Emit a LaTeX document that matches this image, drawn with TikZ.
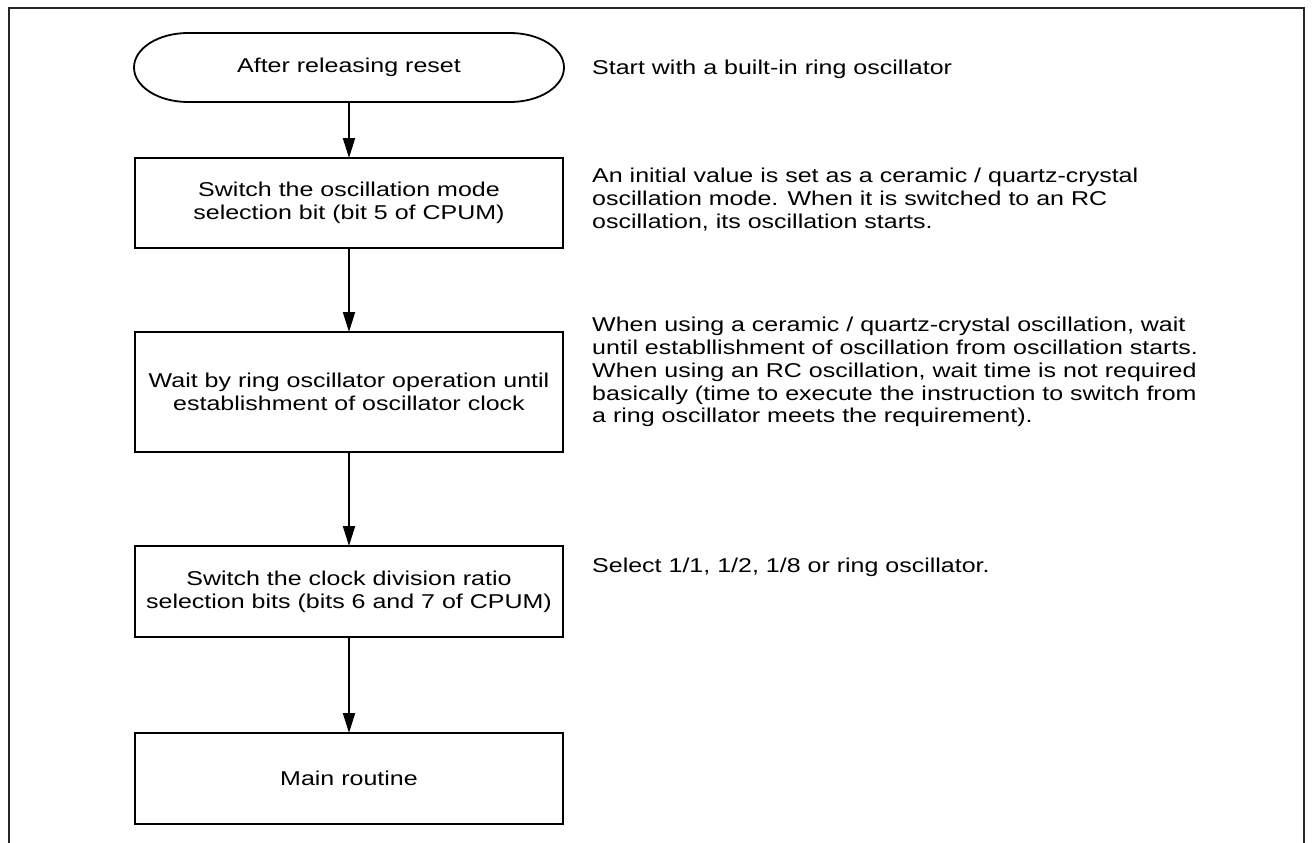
\documentclass[tikz,border=0pt]{standalone}
\usepackage{fontspec}
\setmainfont{Liberation Sans}[FakeStretch=1.25]
\usetikzlibrary{arrows.meta}

\begin{document}
\begin{tikzpicture}[
      x=1pt, y=-1pt,
      font=\fontsize{20}{22.8}\selectfont,
      type-frame/.style={line width=2.2pt, draw=black!85},
      type-start/.style={rectangle, minimum width=430pt, minimum height=69pt, inner sep=0pt, outer sep=0pt},
      type-step/.style={rectangle, draw, line width=1.8pt, minimum width=428pt, align=center, inner sep=0pt, outer sep=0pt},
      type-note/.style={anchor=north west, align=left, inner sep=0pt},
      flow/.style={line width=2pt, -{Triangle[length=20pt,width=12pt]}}
    ]
      \useasboundingbox (0,0) rectangle (1315,843);
      \draw[type-frame] (9,843) -- (9,8) -- (1304,8) -- (1304,843);

      \node[type-start] (reset) at (349,67.5) {After releasing reset};
      \draw[line width=1.8pt] ([xshift=54pt]reset.north west) -- ([xshift=-54pt]reset.north east)
        arc[start angle=90, end angle=-90, x radius=54pt, y radius=34.5pt]
        -- ([xshift=54pt]reset.south west)
        arc[start angle=270, end angle=90, x radius=54pt, y radius=34.5pt] -- cycle;

      \node[type-step, minimum height=90pt] (mode) at (349,203)
        {Switch the oscillation mode\\selection bit (bit 5 of CPUM)};
      \node[type-step, minimum height=120pt] (wait) at (349,392)
        {Wait by ring oscillator operation until\\establishment of oscillator clock};
      \node[type-step, minimum height=91pt] (ratio) at (349,591.5)
        {Switch the clock division ratio\\selection bits (bits 6 and 7 of CPUM)};
      \node[type-step, minimum height=91pt] (main) at (349,778.5) {Main routine};

      \draw[flow] (reset) -- (mode);
      \draw[flow] (mode) -- (wait);
      \draw[flow] (wait) -- (ratio);
      \draw[flow] (ratio) -- (main);

      \node[type-note] (note-reset) at (592,60) {Start with a built-in ring oscillator};
      \node[type-note] (note-mode) at (592,168)
        {An initial value is set as a ceramic / quartz-crystal\\oscillation mode. When it is switched to an RC\\oscillation, its oscillation starts.};
      \node[type-note] (note-wait) at (592,317)
        {When using a ceramic / quartz-crystal oscillation, wait\\until establlishment of oscillation from oscillation starts.\\When using an RC oscillation, wait time is not required\\basically (time to execute the instruction to switch from\\a ring oscillator meets the requirement).};
      \node[type-note] (note-ratio) at (592,558) {Select 1/1, 1/2, 1/8 or ring oscillator.};
    \end{tikzpicture}
\end{document}
